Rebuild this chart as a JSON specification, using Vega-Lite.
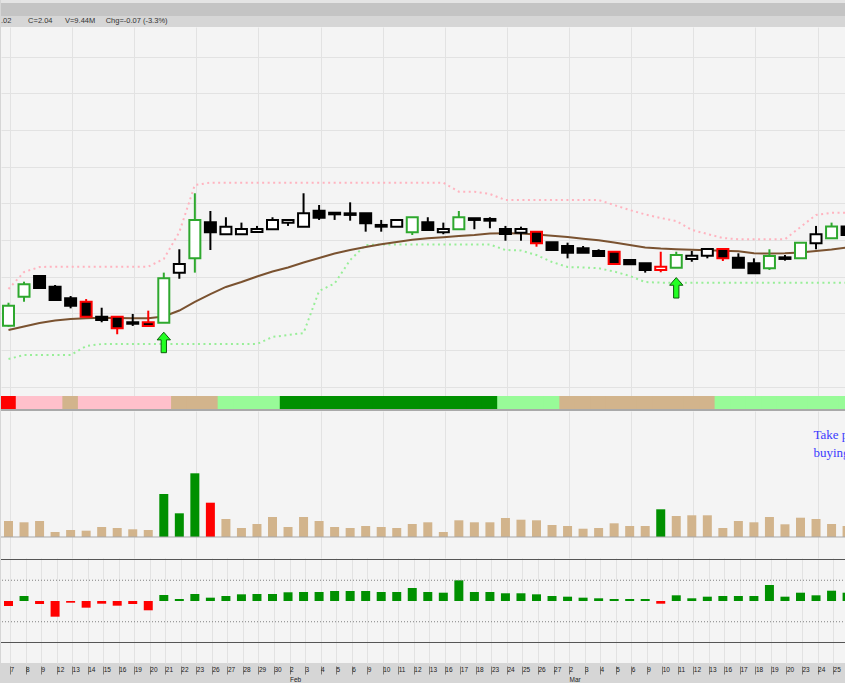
{
  "$schema": "https://vega.github.io/schema/vega-lite/v6.json",
  "background": "#d6d6d6",
  "padding": 0,
  "spacing": 0,
  "resolve": {"scale": {"color": "independent", "fill": "independent", "stroke": "independent"}},
  "config": {"view": {"stroke": null}, "font": "Liberation Sans", "concat": {"spacing": 0}, "scale": {"continuousPadding": 0}},
  "datasets": {
    "d": [
      {"i":0,"date":"2015-01-07","o":1.299,"h":1.487,"l":1.291,"c":1.463,"edge":"green","filled":"no","ma":1.264,"up":1.599,"lo":1.027,"vol":13.73,"vcol":"tan","hist":-12.0,"band":"red"},
      {"i":1,"date":"2015-01-08","o":1.536,"h":1.659,"l":1.495,"c":1.638,"edge":"green","filled":"no","ma":1.292,"up":1.738,"lo":1.059,"vol":12.61,"vcol":"tan","hist":12.0,"band":"pink"},
      {"i":2,"date":"2015-01-09","o":1.706,"h":1.706,"l":1.607,"c":1.607,"edge":"black","filled":"yes","ma":1.321,"up":1.779,"lo":1.059,"vol":13.73,"vcol":"tan","hist":-7.2,"band":"pink"},
      {"i":3,"date":"2015-01-12","o":1.618,"h":1.632,"l":1.509,"c":1.509,"edge":"black","filled":"yes","ma":1.342,"up":1.782,"lo":1.059,"vol":4.29,"vcol":"tan","hist":-37.8,"band":"pink"},
      {"i":4,"date":"2015-01-13","o":1.523,"h":1.542,"l":1.441,"c":1.463,"edge":"black","filled":"yes","ma":1.354,"up":1.782,"lo":1.059,"vol":6.01,"vcol":"tan","hist":-4.1,"band":"tan"},
      {"i":5,"date":"2015-01-14","o":1.495,"h":1.517,"l":1.373,"c":1.373,"edge":"red","filled":"yes","ma":1.360,"up":1.782,"lo":1.133,"vol":5.41,"vcol":"tan","hist":-16.1,"band":"pink"},
      {"i":6,"date":"2015-01-15","o":1.373,"h":1.446,"l":1.327,"c":1.346,"edge":"black","filled":"yes","ma":1.364,"up":1.782,"lo":1.149,"vol":8.58,"vcol":"tan","hist":-6.5,"band":"pink"},
      {"i":7,"date":"2015-01-16","o":1.373,"h":1.373,"l":1.229,"c":1.278,"edge":"red","filled":"yes","ma":1.362,"up":1.782,"lo":1.149,"vol":7.72,"vcol":"tan","hist":-11.3,"band":"pink"},
      {"i":8,"date":"2015-01-19","o":1.327,"h":1.395,"l":1.297,"c":1.315,"edge":"black","filled":"yes","ma":1.360,"up":1.782,"lo":1.149,"vol":6.61,"vcol":"tan","hist":-7.2,"band":"pink"},
      {"i":9,"date":"2015-01-20","o":1.327,"h":1.422,"l":1.297,"c":1.297,"edge":"red","filled":"yes","ma":1.360,"up":1.782,"lo":1.149,"vol":6.01,"vcol":"tan","hist":-22.4,"band":"pink"},
      {"i":10,"date":"2015-01-21","o":1.324,"h":1.733,"l":1.324,"c":1.687,"edge":"green","filled":"no","ma":1.374,"up":1.845,"lo":1.149,"vol":36.89,"vcol":"green","hist":14.5,"band":"pink"},
      {"i":11,"date":"2015-01-22","o":1.733,"h":1.924,"l":1.683,"c":1.804,"edge":"black","filled":"no","ma":1.423,"up":2.065,"lo":1.149,"vol":20.33,"vcol":"green","hist":4.8,"band":"tan"},
      {"i":12,"date":"2015-01-23","o":1.850,"h":2.382,"l":1.733,"c":2.164,"edge":"green","filled":"no","ma":1.493,"up":2.450,"lo":1.149,"vol":54.65,"vcol":"green","hist":16.9,"band":"tan"},
      {"i":13,"date":"2015-01-26","o":2.145,"h":2.237,"l":1.918,"c":2.063,"edge":"black","filled":"yes","ma":1.558,"up":2.469,"lo":1.149,"vol":29.43,"vcol":"red","hist":8.0,"band":"tan"},
      {"i":14,"date":"2015-01-27","o":2.047,"h":2.186,"l":2.047,"c":2.109,"edge":"black","filled":"no","ma":1.616,"up":2.469,"lo":1.149,"vol":15.44,"vcol":"tan","hist":12.0,"band":"lightgreen"},
      {"i":15,"date":"2015-01-28","o":2.047,"h":2.142,"l":2.047,"c":2.090,"edge":"black","filled":"no","ma":1.656,"up":2.469,"lo":1.149,"vol":7.72,"vcol":"tan","hist":16.1,"band":"lightgreen"},
      {"i":16,"date":"2015-01-29","o":2.065,"h":2.115,"l":2.065,"c":2.090,"edge":"black","filled":"no","ma":1.701,"up":2.469,"lo":1.149,"vol":11.15,"vcol":"tan","hist":16.9,"band":"lightgreen"},
      {"i":17,"date":"2015-01-30","o":2.088,"h":2.186,"l":2.088,"c":2.164,"edge":"black","filled":"no","ma":1.742,"up":2.469,"lo":1.207,"vol":17.16,"vcol":"tan","hist":16.9,"band":"lightgreen"},
      {"i":18,"date":"2015-02-02","o":2.142,"h":2.164,"l":2.115,"c":2.164,"edge":"black","filled":"no","ma":1.775,"up":2.469,"lo":1.223,"vol":8.58,"vcol":"tan","hist":21.0,"band":"green"},
      {"i":19,"date":"2015-02-03","o":2.109,"h":2.382,"l":2.109,"c":2.218,"edge":"black","filled":"no","ma":1.816,"up":2.469,"lo":1.239,"vol":17.16,"vcol":"tan","hist":21.7,"band":"green"},
      {"i":20,"date":"2015-02-04","o":2.240,"h":2.286,"l":2.164,"c":2.182,"edge":"black","filled":"yes","ma":1.853,"up":2.469,"lo":1.583,"vol":13.73,"vcol":"tan","hist":21.7,"band":"green"},
      {"i":21,"date":"2015-02-05","o":2.223,"h":2.223,"l":2.164,"c":2.210,"edge":"black","filled":"yes","ma":1.890,"up":2.469,"lo":1.644,"vol":8.58,"vcol":"tan","hist":24.1,"band":"green"},
      {"i":22,"date":"2015-02-06","o":2.218,"h":2.308,"l":2.158,"c":2.205,"edge":"black","filled":"yes","ma":1.918,"up":2.469,"lo":1.836,"vol":7.72,"vcol":"tan","hist":24.1,"band":"green"},
      {"i":23,"date":"2015-02-09","o":2.218,"h":2.218,"l":2.068,"c":2.137,"edge":"black","filled":"yes","ma":1.943,"up":2.469,"lo":1.959,"vol":9.44,"vcol":"tan","hist":24.1,"band":"green"},
      {"i":24,"date":"2015-02-10","o":2.123,"h":2.164,"l":2.068,"c":2.109,"edge":"black","filled":"yes","ma":1.965,"up":2.469,"lo":1.963,"vol":8.58,"vcol":"tan","hist":21.7,"band":"green"},
      {"i":25,"date":"2015-02-11","o":2.109,"h":2.164,"l":2.109,"c":2.164,"edge":"black","filled":"no","ma":1.984,"up":2.469,"lo":1.963,"vol":7.72,"vcol":"tan","hist":21.7,"band":"green"},
      {"i":26,"date":"2015-02-12","o":2.063,"h":2.186,"l":2.041,"c":2.186,"edge":"green","filled":"no","ma":2.002,"up":2.469,"lo":1.963,"vol":11.15,"vcol":"tan","hist":31.3,"band":"green"},
      {"i":27,"date":"2015-02-13","o":2.145,"h":2.186,"l":2.082,"c":2.082,"edge":"black","filled":"yes","ma":2.014,"up":2.469,"lo":1.963,"vol":12.61,"vcol":"tan","hist":21.7,"band":"green"},
      {"i":28,"date":"2015-02-16","o":2.063,"h":2.142,"l":2.047,"c":2.090,"edge":"black","filled":"no","ma":2.023,"up":2.469,"lo":1.963,"vol":4.29,"vcol":"tan","hist":20.0,"band":"green"},
      {"i":29,"date":"2015-02-17","o":2.088,"h":2.237,"l":2.088,"c":2.186,"edge":"green","filled":"no","ma":2.033,"up":2.395,"lo":1.963,"vol":14.33,"vcol":"tan","hist":49.9,"band":"green"},
      {"i":30,"date":"2015-02-18","o":2.178,"h":2.178,"l":2.088,"c":2.164,"edge":"black","filled":"yes","ma":2.041,"up":2.395,"lo":1.963,"vol":12.61,"vcol":"tan","hist":21.7,"band":"green"},
      {"i":31,"date":"2015-02-23","o":2.172,"h":2.186,"l":2.096,"c":2.158,"edge":"black","filled":"yes","ma":2.053,"up":2.376,"lo":1.963,"vol":12.61,"vcol":"tan","hist":21.7,"band":"green"},
      {"i":32,"date":"2015-02-24","o":2.090,"h":2.115,"l":1.994,"c":2.049,"edge":"black","filled":"yes","ma":2.055,"up":2.327,"lo":1.918,"vol":16.30,"vcol":"tan","hist":18.6,"band":"lightgreen"},
      {"i":33,"date":"2015-02-25","o":2.060,"h":2.109,"l":1.994,"c":2.090,"edge":"black","filled":"no","ma":2.053,"up":2.327,"lo":1.914,"vol":14.84,"vcol":"tan","hist":18.6,"band":"lightgreen"},
      {"i":34,"date":"2015-02-26","o":2.068,"h":2.068,"l":1.945,"c":1.973,"edge":"red","filled":"yes","ma":2.045,"up":2.327,"lo":1.877,"vol":14.33,"vcol":"tan","hist":16.1,"band":"lightgreen"},
      {"i":35,"date":"2015-02-27","o":1.981,"h":1.981,"l":1.918,"c":1.918,"edge":"black","filled":"yes","ma":2.035,"up":2.327,"lo":1.820,"vol":10.30,"vcol":"tan","hist":12.0,"band":"lightgreen"},
      {"i":36,"date":"2015-03-02","o":1.951,"h":1.978,"l":1.850,"c":1.896,"edge":"black","filled":"yes","ma":2.025,"up":2.327,"lo":1.779,"vol":9.44,"vcol":"tan","hist":10.4,"band":"tan"},
      {"i":37,"date":"2015-03-03","o":1.932,"h":1.951,"l":1.896,"c":1.896,"edge":"black","filled":"yes","ma":2.011,"up":2.327,"lo":1.775,"vol":7.12,"vcol":"tan","hist":8.0,"band":"tan"},
      {"i":38,"date":"2015-03-04","o":1.910,"h":1.924,"l":1.869,"c":1.869,"edge":"black","filled":"yes","ma":1.998,"up":2.327,"lo":1.769,"vol":7.72,"vcol":"tan","hist":6.5,"band":"tan"},
      {"i":39,"date":"2015-03-05","o":1.904,"h":1.904,"l":1.804,"c":1.804,"edge":"red","filled":"yes","ma":1.980,"up":2.286,"lo":1.742,"vol":11.75,"vcol":"tan","hist":4.8,"band":"tan"},
      {"i":40,"date":"2015-03-06","o":1.836,"h":1.836,"l":1.801,"c":1.801,"edge":"black","filled":"yes","ma":1.959,"up":2.245,"lo":1.706,"vol":9.44,"vcol":"tan","hist":4.8,"band":"tan"},
      {"i":41,"date":"2015-03-09","o":1.809,"h":1.809,"l":1.733,"c":1.755,"edge":"black","filled":"yes","ma":1.939,"up":2.209,"lo":1.656,"vol":9.44,"vcol":"tan","hist":4.8,"band":"tan"},
      {"i":42,"date":"2015-03-10","o":1.782,"h":1.904,"l":1.736,"c":1.755,"edge":"red","filled":"no","ma":1.930,"up":2.180,"lo":1.651,"vol":23.77,"vcol":"green","hist":-6.5,"band":"tan"},
      {"i":43,"date":"2015-03-11","o":1.773,"h":1.904,"l":1.773,"c":1.877,"edge":"green","filled":"no","ma":1.925,"up":2.155,"lo":1.651,"vol":18.02,"vcol":"tan","hist":13.7,"band":"tan"},
      {"i":44,"date":"2015-03-12","o":1.845,"h":1.910,"l":1.822,"c":1.872,"edge":"black","filled":"no","ma":1.920,"up":2.082,"lo":1.651,"vol":18.62,"vcol":"tan","hist":6.5,"band":"tan"},
      {"i":45,"date":"2015-03-13","o":1.872,"h":1.926,"l":1.850,"c":1.926,"edge":"black","filled":"no","ma":1.916,"up":2.049,"lo":1.651,"vol":18.62,"vcol":"tan","hist":10.4,"band":"tan"},
      {"i":46,"date":"2015-03-16","o":1.926,"h":1.926,"l":1.828,"c":1.850,"edge":"red","filled":"yes","ma":1.912,"up":2.016,"lo":1.651,"vol":7.72,"vcol":"tan","hist":12.0,"band":"lightgreen"},
      {"i":47,"date":"2015-03-17","o":1.855,"h":1.891,"l":1.773,"c":1.773,"edge":"black","filled":"yes","ma":1.908,"up":2.006,"lo":1.651,"vol":13.73,"vcol":"tan","hist":12.0,"band":"lightgreen"},
      {"i":48,"date":"2015-03-18","o":1.809,"h":1.850,"l":1.728,"c":1.728,"edge":"black","filled":"yes","ma":1.891,"up":2.006,"lo":1.651,"vol":12.61,"vcol":"tan","hist":12.0,"band":"lightgreen"},
      {"i":49,"date":"2015-03-19","o":1.769,"h":1.924,"l":1.755,"c":1.869,"edge":"green","filled":"no","ma":1.890,"up":2.006,"lo":1.651,"vol":17.16,"vcol":"tan","hist":38.6,"band":"lightgreen"},
      {"i":50,"date":"2015-03-20","o":1.858,"h":1.877,"l":1.831,"c":1.845,"edge":"black","filled":"yes","ma":1.891,"up":2.006,"lo":1.651,"vol":10.90,"vcol":"tan","hist":10.4,"band":"lightgreen"},
      {"i":51,"date":"2015-03-23","o":1.850,"h":1.978,"l":1.850,"c":1.978,"edge":"green","filled":"no","ma":1.898,"up":2.106,"lo":1.651,"vol":16.56,"vcol":"tan","hist":20.0,"band":"lightgreen"},
      {"i":52,"date":"2015-03-24","o":1.973,"h":2.115,"l":1.924,"c":2.047,"edge":"black","filled":"no","ma":1.910,"up":2.205,"lo":1.651,"vol":15.44,"vcol":"tan","hist":13.7,"band":"lightgreen"},
      {"i":53,"date":"2015-03-25","o":2.014,"h":2.142,"l":2.014,"c":2.11,"edge":"green","filled":"no","ma":1.922,"up":2.223,"lo":1.651,"vol":11.15,"vcol":"tan","hist":24.8,"band":"lightgreen"},
      {"i":54,"date":"2015-03-26","o":2.11,"h":2.115,"l":2.04,"c":2.04,"edge":"black","filled":"yes","ma":1.939,"up":2.223,"lo":1.651,"vol":9.44,"vcol":"tan","hist":20.0,"band":"lightgreen"}
    ],
    "arrows": [
      {"i":10,"date":"2015-01-21","y":1.162},
      {"i":43,"date":"2015-03-11","y":1.609}
    ]
  },
  "vconcat": [
    {
      "width": 845, "height": 3,
      "view": {"fill": "#e4e4e4"},
      "data": {"values": [{}]},
      "mark": {"type": "point", "opacity": 0, "size": 0},
      "encoding": {}
    },
    {
      "width": 845, "height": 13,
      "view": {"fill": "#c4c4c4"},
      "data": {"values": [{}]},
      "mark": {"type": "point", "opacity": 0, "size": 0},
      "encoding": {}
    },
    {
      "width": 845, "height": 369,
      "title": {"text": ".02\u00a0\u00a0\u00a0\u00a0\u00a0\u00a0\u00a0\u00a0C=2.04\u00a0\u00a0\u00a0\u00a0\u00a0\u00a0V=9.44M\u00a0\u00a0\u00a0\u00a0\u00a0Chg=-0.07 (-3.3%)", "anchor": "start", "frame": "group", "fontSize": 7.5, "fontWeight": "normal", "font": "Liberation Sans", "color": "#333333", "offset": 3},
      "view": {"fill": "#f4f4f4"},
      "data": {"name": "d"},
      "layer": [
        {
          "mark": {"type": "line", "stroke": "#ffb3bf", "strokeWidth": 2, "strokeDash": [2, 3.5], "clip": true},
          "encoding": {
            "x": {"field": "i", "type": "quantitative", "scale": {"domain": [-0.483, 53.93], "nice": false, "zero": false, "padding": 0},
                  "axis": {"grid": true, "labels": false, "ticks": false, "domain": false, "title": null, "gridColor": "#e2e2e2", "tickOffset": 1.5,
                           "values": [0,1,2,3,4,5,6,7,8,9,10,11,12,13,14,15,16,17,18,19,20,21,22,23,24,25,26,27,28,29,30,31,32,33,34,35,36,37,38,39,40,41,42,43,44,45,46,47,48,49,50,51,52,53]}},
            "y": {"field": "up", "type": "quantitative", "scale": {"domain": [0.724, 3.742], "nice": false, "zero": false, "padding": 0},
                  "axis": {"grid": true, "labels": false, "ticks": false, "domain": false, "title": null, "gridColor": "#e2e2e2",
                           "values": [0.8,0.95,1.1,1.25,1.4,1.55,1.7,1.85,2.0,2.15,2.3,2.45,2.6,2.75,2.9,3.05,3.2,3.35,3.5,3.65]}}
          }
        },
        {
          "mark": {"type": "line", "stroke": "#98ee98", "strokeWidth": 2, "strokeDash": [2, 3.5], "clip": true},
          "encoding": {
            "x": {"field": "i", "type": "quantitative"},
            "y": {"field": "lo", "type": "quantitative"}
          }
        },
        {
          "mark": {"type": "line", "stroke": "#7a5230", "strokeWidth": 2, "clip": true},
          "encoding": {
            "x": {"field": "i", "type": "quantitative"},
            "y": {"field": "ma", "type": "quantitative"}
          }
        },
        {
          "mark": {"type": "rule", "strokeWidth": 2, "clip": true},
          "encoding": {
            "x": {"field": "i", "type": "quantitative"},
            "y": {"field": "l", "type": "quantitative"},
            "y2": {"field": "h"},
            "color": {"field": "edge", "type": "nominal", "scale": {"domain": ["black", "green", "red"], "range": ["#000000", "#2ea82e", "#ff0000"]}, "legend": null}
          }
        },
        {
          "mark": {"type": "bar", "orient": "vertical", "size": 11, "strokeWidth": 2, "clip": true},
          "encoding": {
            "x": {"field": "i", "type": "quantitative"},
            "y": {"field": "o", "type": "quantitative"},
            "y2": {"field": "c"},
            "fill": {"field": "filled", "type": "nominal", "scale": {"domain": ["yes", "no"], "range": ["#000000", "#ffffff"]}, "legend": null},
            "stroke": {"field": "edge", "type": "nominal", "scale": {"domain": ["black", "green", "red"], "range": ["#000000", "#2ea82e", "#ff0000"]}, "legend": null}
          }
        },
        {
          "data": {"name": "arrows"},
          "mark": {"type": "point", "shape": "M0,-1L0.65,-0.25L0.26,-0.25L0.26,1L-0.26,1L-0.26,-0.25L-0.65,-0.25Z", "filled": true, "fill": "#22ff22", "stroke": "#0b5e0b", "strokeWidth": 1, "size": 420, "opacity": 1},
          "encoding": {
            "x": {"field": "i", "type": "quantitative"},
            "y": {"field": "y", "type": "quantitative"}
          }
        }
      ]
    },
    {
      "width": 845, "height": 13,
      "data": {"name": "d"},
      "mark": {"type": "bar", "orient": "vertical", "size": 16.5, "clip": true},
      "encoding": {
        "x": {"field": "i", "type": "quantitative", "scale": {"domain": [-0.483, 53.93], "nice": false, "zero": false, "padding": 0}, "axis": null},
        "y": {"datum": 1, "type": "quantitative", "scale": {"domain": [0, 1], "nice": false, "padding": 0}, "axis": null},
        "color": {"field": "band", "type": "nominal", "scale": {"domain": ["red", "pink", "tan", "lightgreen", "green"], "range": ["#ff0000", "#ffc0cb", "#d2b48c", "#98fb98", "#009000"]}, "legend": null}
      }
    },
    {
      "width": 845, "height": 2,
      "view": {"fill": "#a9a9a9"},
      "data": {"values": [{}]},
      "mark": {"type": "point", "opacity": 0, "size": 0},
      "encoding": {}
    },
    {
      "width": 845, "height": 147,
      "view": {"fill": "#f4f4f4"},
      "resolve": {"scale": {"color": "independent"}},
      "layer": [
        {
          "data": {"name": "d"},
          "mark": {"type": "bar", "size": 9, "clip": true},
          "encoding": {
            "x": {"field": "i", "type": "quantitative", "scale": {"domain": [-0.483, 53.93], "nice": false, "zero": false, "padding": 0},
                  "axis": {"grid": true, "labels": false, "ticks": false, "domain": false, "title": null, "gridColor": "#e2e2e2", "tickOffset": 1.5,
                           "values": [0,1,2,3,4,5,6,7,8,9,10,11,12,13,14,15,16,17,18,19,20,21,22,23,24,25,26,27,28,29,30,31,32,33,34,35,36,37,38,39,40,41,42,43,44,45,46,47,48,49,50,51,52,53]}},
            "y": {"field": "vol", "type": "quantitative", "scale": {"domain": [-18.02, 108.11], "nice": false, "zero": false, "padding": 0}, "axis": null},
            "color": {"field": "vcol", "type": "nominal", "scale": {"domain": ["tan", "green", "red"], "range": ["#d2b48c", "#009000", "#ff0000"]}, "legend": null}
          }
        },
        {
          "data": {"values": [{}]},
          "mark": {"type": "rule", "color": "#a8a8a8", "strokeWidth": 1},
          "encoding": {"y": {"datum": 0, "type": "quantitative"}}
        },
        {
          "data": {"values": [{}]},
          "mark": {"type": "text", "font": "Liberation Serif", "fontSize": 13, "color": "#3b3bff", "align": "left", "baseline": "middle", "lineHeight": 17.7, "clip": true},
          "encoding": {
            "x": {"datum": 51.83, "type": "quantitative"},
            "y": {"datum": 87.5, "type": "quantitative"},
            "text": {"value": ["Take profit", "buying"]}
          }
        }
      ]
    },
    {
      "width": 845, "height": 105,
      "view": {"fill": "#f4f4f4"},
      "layer": [
        {
          "data": {"name": "d"},
          "mark": {"type": "bar", "size": 9, "clip": true},
          "encoding": {
            "x": {"field": "i", "type": "quantitative", "scale": {"domain": [-0.483, 53.93], "nice": false, "zero": false, "padding": 0},
                  "axis": {"grid": true, "gridColor": "#e2e2e2", "tickOffset": 1.5, "domain": false, "ticks": true, "tickSize": 8, "tickColor": "#7a7a7a", "tickWidth": 1, "offset": 3,
                           "labelExpr": "['7','8','9','12','13','14','15','16','19','20','21','22','23','26','27','28','29','30',['2','Feb'],'3','4','5','6','9','10','11','12','13','16','17','18','23','24','25','26','27',['2','Mar'],'3','4','5','6','9','10','11','12','13','16','17','18','19','20','23','24','25'][datum.value]",
                           "labelAlign": "left", "labelBaseline": "top", "labelPadding": -7.5, "labelDx": 2, "labelFontSize": 6.5, "labelColor": "#222222", "labelFont": "Liberation Sans",
                           "labelOverlap": false, "labelFlush": false, "labelBound": false, "labelLineHeight": 9.5, "title": null,
                           "values": [0,1,2,3,4,5,6,7,8,9,10,11,12,13,14,15,16,17,18,19,20,21,22,23,24,25,26,27,28,29,30,31,32,33,34,35,36,37,38,39,40,41,42,43,44,45,46,47,48,49,50,51,52,53]}},
            "y": {"field": "hist", "type": "quantitative", "scale": {"domain": [-149.4, 103.6], "nice": false, "zero": false, "padding": 0}, "axis": null},
            "color": {"condition": {"test": "datum.hist < 0", "value": "#ff0000"}, "value": "#009000"}
          }
        },
        {
          "data": {"values": [{"lvl": 100}, {"lvl": -100}]},
          "mark": {"type": "rule", "color": "#555555", "strokeWidth": 1.2},
          "encoding": {"y": {"field": "lvl", "type": "quantitative"}}
        },
        {
          "data": {"values": [{"lvl": 50}, {"lvl": -50}]},
          "mark": {"type": "rule", "color": "#808080", "strokeWidth": 1, "strokeDash": [1, 2]},
          "encoding": {"y": {"field": "lvl", "type": "quantitative"}}
        }
      ]
    }
  ]
}
